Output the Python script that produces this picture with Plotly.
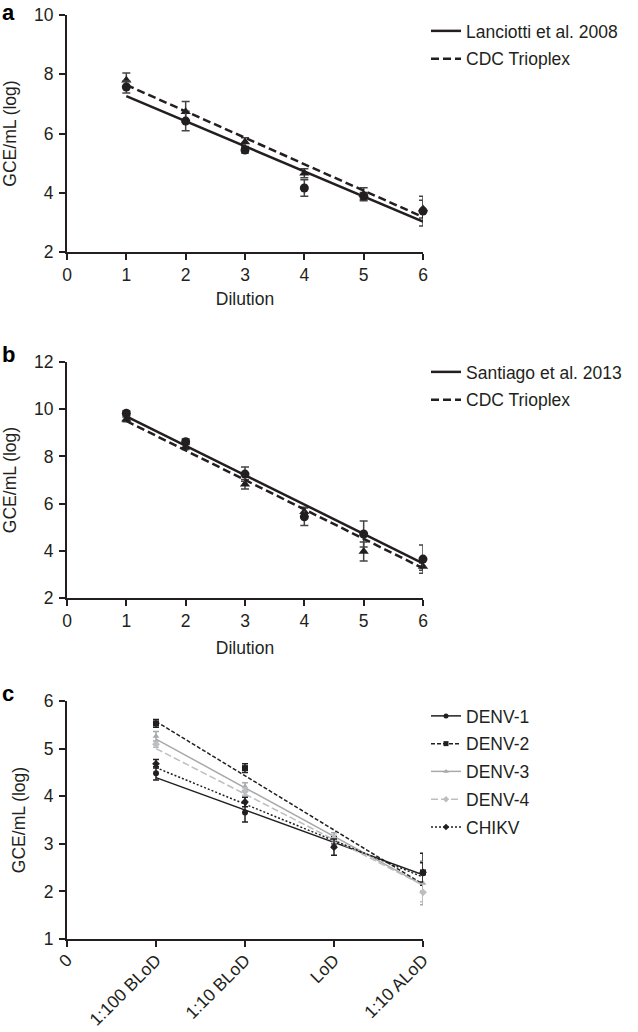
import plotly.graph_objects as go

# ---------------- data ----------------
dil = [1, 2, 3, 4, 5, 6]

# panel a
a_lan = [7.57, 6.42, 5.44, 4.16, 3.89, 3.38]
a_lan_err = [0.2, 0.33, 0.1, 0.28, 0.12, 0.5]
a_cdc = [7.8, 6.73, 5.71, 4.66, 3.95, 3.45]
a_cdc_err = [0.24, 0.35, 0.15, 0.15, 0.22, 0.3]
a_lan_fit = [7.26, 3.03]
a_cdc_fit = [7.64, 3.18]

# panel b
b_san = [9.83, 8.62, 7.25, 5.44, 4.71, 3.65]
b_san_err = [0.1, 0.12, 0.3, 0.37, 0.55, 0.6]
b_cdc = [9.57, 8.41, 6.82, 5.65, 3.97, 3.33]
b_cdc_err = [0.1, 0.12, 0.2, 0.2, 0.4, 0.15]
b_san_fit = [9.7, 3.47]
b_cdc_fit = [9.5, 3.26]

# panel c
c_cats = ["0", "1:100 BLoD", "1:10 BLoD", "LoD", "1:10 ALoD"]
c_x = [1, 2, 3, 4]
c_names = ["DENV-1", "DENV-2", "DENV-3", "DENV-4", "CHIKV"]
c_vals = [
    [4.48, 3.66, 3.04, 2.38],
    [5.53, 4.59, 3.05, 2.4],
    [5.26, 4.2, 3.15, 2.17],
    [5.09, 4.1, 3.1, 1.98],
    [4.68, 3.88, 2.93, 2.4],
]
c_errs = [
    [0.14, 0.2, 0.12, 0.25],
    [0.08, 0.09, 0.1, 0.4],
    [0.1, 0.08, 0.08, 0.45],
    [0.06, 0.08, 0.08, 0.2],
    [0.09, 0.1, 0.17, 0.2],
]
c_fit = [
    [4.39, 2.35],
    [5.57, 2.15],
    [5.2, 2.13],
    [5.0, 2.13],
    [4.6, 2.3],
]

# ---------------- styling ----------------
FONT = "Liberation Sans, Arial, sans-serif"
FS = 17.5
DARK = "#231f20"
c_colors = [DARK, DARK, "#a7a9ac", "#bcbec0", DARK]
c_dash = ["solid", "4px,2px", "solid", "7px,3px", "2px,2px"]
c_sym = ["circle", "square", "triangle-up", "diamond", "diamond"]

W, H = 638, 1032
fig = go.Figure()


def px_x(p):
    return p / W


def px_y(p):
    return 1 - p / H


def add_pair(xa, ya, vals1, err1, vals2, err2, fit1, fit2, name1, name2, leg):
    for vals, err, sym in [(vals2, err2, "triangle-up"), (vals1, err1, "circle")]:
        fig.add_trace(go.Scatter(
            x=dil, y=vals, mode="markers", xaxis=xa, yaxis=ya,
            marker=dict(symbol=sym, size=9, color=DARK),
            error_y=dict(type="data", array=err, color="#444", thickness=1.5, width=4),
            showlegend=False, cliponaxis=False))
    for fit, dash, nm in [(fit1, "solid", name1), (fit2, "8px,4px", name2)]:
        fig.add_trace(go.Scatter(
            x=[dil[0], dil[-1]], y=fit, mode="lines", xaxis=xa, yaxis=ya,
            line=dict(color=DARK, width=2.5, dash=dash), name=nm,
            legend=leg, legendgroup=leg + nm, cliponaxis=False))


add_pair("x", "y", a_lan, a_lan_err, a_cdc, a_cdc_err, a_lan_fit, a_cdc_fit,
         "Lanciotti et al. 2008", "CDC Trioplex", "legend")
add_pair("x2", "y2", b_san, b_san_err, b_cdc, b_cdc_err, b_san_fit, b_cdc_fit,
         "Santiago et al. 2013", "CDC Trioplex", "legend2")

for i, nm in enumerate(c_names):
    fig.add_trace(go.Scatter(
        x=[c_x[0], c_x[-1]], y=c_fit[i], mode="lines", xaxis="x3", yaxis="y3",
        line=dict(color=c_colors[i], width=1.5, dash=c_dash[i]),
        showlegend=False, cliponaxis=False))
for i, nm in enumerate(c_names):
    fig.add_trace(go.Scatter(
        x=c_x, y=c_vals[i], mode="markers", xaxis="x3", yaxis="y3",
        marker=dict(symbol=c_sym[i], size=6, color=c_colors[i]),
        error_y=dict(type="data", array=c_errs[i], color=c_colors[i], thickness=1.5, width=3),
        showlegend=False, cliponaxis=False))
for i, nm in enumerate(c_names):
    fig.add_trace(go.Scatter(
        x=[None], y=[None], mode="lines+markers", xaxis="x3", yaxis="y3",
        line=dict(color=c_colors[i], width=1.5, dash=c_dash[i]),
        marker=dict(symbol=c_sym[i], size=5, color=c_colors[i]),
        name=nm, legend="legend3", legendgroup="c" + nm))

xdom = [px_x(67), px_x(423)]
axis_common = dict(
    showgrid=False, zeroline=False, showline=True, linecolor=DARK, linewidth=2,
    ticks="outside", ticklen=6, tickwidth=2, tickcolor=DARK, automargin=False,
    tickfont=dict(family=FONT, size=FS, color=DARK),
)
title_font = dict(family=FONT, size=FS, color=DARK)
leg_common = dict(xanchor="left", yanchor="top", bgcolor="rgba(0,0,0,0)", itemwidth=30,
                  font=dict(family=FONT, size=FS, color=DARK))

fig.update_layout(
    width=W, height=H, margin=dict(l=0, r=0, t=0, b=0),
    paper_bgcolor="white", plot_bgcolor="white",
    font=dict(family=FONT, size=FS, color=DARK),
    xaxis=dict(domain=xdom, range=[0, 6], tickvals=[0, 1, 2, 3, 4, 5, 6], anchor="y",
               title=dict(text="Dilution", font=title_font, standoff=9), **axis_common),
    yaxis=dict(domain=[px_y(252), px_y(15)], range=[2, 10], tickvals=[2, 4, 6, 8, 10], anchor="x",
               ticklabelstandoff=2,
               title=dict(text="GCE/mL (log)", font=title_font, standoff=14), **axis_common),
    xaxis2=dict(domain=xdom, range=[0, 6], tickvals=[0, 1, 2, 3, 4, 5, 6], anchor="y2",
                title=dict(text="Dilution", font=title_font, standoff=12), **axis_common),
    yaxis2=dict(domain=[px_y(598), px_y(362)], range=[2, 12], tickvals=[2, 4, 6, 8, 10, 12], anchor="x2",
                ticklabelstandoff=2,
                title=dict(text="GCE/mL (log)", font=title_font, standoff=14), **axis_common),
    xaxis3=dict(domain=xdom, range=[0, 4], tickvals=[0, 1, 2, 3, 4], ticktext=c_cats,
                tickangle=-45, anchor="y3", ticklabelstandoff=-4, **axis_common),
    yaxis3=dict(domain=[px_y(939), px_y(701)], range=[1, 6], tickvals=[1, 2, 3, 4, 5, 6], anchor="x3",
                ticklabelstandoff=2,
                title=dict(text="GCE/mL (log)", font=title_font, standoff=14), **axis_common),
    legend=dict(x=px_x(426), y=px_y(13), tracegroupgap=2, **leg_common),
    legend2=dict(x=px_x(426), y=px_y(354), tracegroupgap=2, **leg_common),
    legend3=dict(x=px_x(426), y=px_y(698), tracegroupgap=2, **leg_common),
    annotations=[
        dict(text="<b>a</b>", x=0, y=px_y(12), xref="paper", yref="paper", xanchor="left", yanchor="middle",
             showarrow=False, font=dict(family=FONT, size=22, color="black")),
        dict(text="<b>b</b>", x=0, y=px_y(355), xref="paper", yref="paper", xanchor="left", yanchor="middle",
             showarrow=False, font=dict(family=FONT, size=22, color="black")),
        dict(text="<b>c</b>", x=0, y=px_y(693), xref="paper", yref="paper", xanchor="left", yanchor="middle",
             showarrow=False, font=dict(family=FONT, size=22, color="black")),
    ],
)

fig.write_html("out.html", config={"displayModeBar": False},
               post_script="document.body.style.margin='0px';")
